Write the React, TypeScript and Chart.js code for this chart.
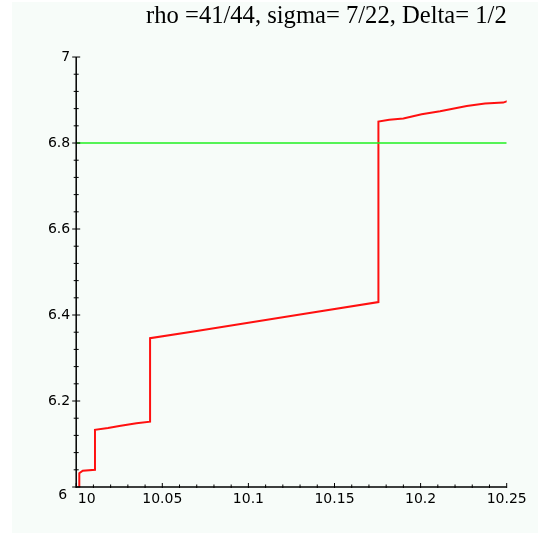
import React, { useEffect, useRef } from "react";
import { Chart, registerables } from "chart.js";

Chart.register(...registerables);

const titleText = "rho =41/44, sigma= 7/22, Delta= 1/2";

const xTickValues = [10, 10.05, 10.1, 10.15, 10.2, 10.25];
const xTickLabels = ["10", "10.05", "10.1", "10.15", "10.2", "10.25"];
const yTickValues = [6, 6.2, 6.4, 6.6, 6.8, 7];
const yTickLabels = ["6", "6.2", "6.4", "6.6", "6.8", "7"];

const redX = [
  10.0018, 10.0018, 10.0038, 10.0109, 10.0109, 10.0185, 10.025, 10.035, 10.0429,
  10.0429, 10.07, 10.1, 10.13, 10.1755, 10.1755, 10.1818, 10.19, 10.2006, 10.2113,
  10.2268, 10.2374, 10.248, 10.2509,
];
const redY = [
  6.0, 6.032, 6.038, 6.04, 6.133, 6.137, 6.142, 6.148, 6.152,
  6.346, 6.363, 6.382, 6.401, 6.43, 6.85, 6.854, 6.857, 6.867, 6.874,
  6.886, 6.892, 6.894, 6.898,
];

const greenX = [10, 10.25];
const greenY = [6.8, 6.8];

const TICK_FONT = { family: "DejaVu Sans", size: 14 };

const backgroundPlugin = {
  id: "bgFrame",
  beforeDraw(chart: any) {
    const { ctx, width, height } = chart;
    ctx.save();
    ctx.fillStyle = "#ffffff";
    ctx.fillRect(0, 0, width, height);
    ctx.fillStyle = "#f7fcf9";
    ctx.fillRect(12, 2, width - 22, height - 7);
    ctx.restore();
  },
};

const axesPlugin = {
  id: "mapleAxes",
  afterDatasetsDraw(chart: any) {
    const { ctx } = chart;
    const xs = chart.scales.x;
    const ys = chart.scales.y;
    const xMin = xTickValues[0];
    const xMax = xTickValues[xTickValues.length - 1];
    const yMin = yTickValues[0];
    const yMax = yTickValues[yTickValues.length - 1];
    const ax = xs.getPixelForValue(xMin);
    const ay = ys.getPixelForValue(yMin);
    ctx.save();
    ctx.strokeStyle = "#000";
    ctx.lineWidth = 1.5;
    ctx.beginPath();
    ctx.moveTo(ax, ys.getPixelForValue(yMax));
    ctx.lineTo(ax, ay);
    ctx.lineTo(xs.getPixelForValue(xMax), ay);
    ctx.stroke();

    ctx.lineWidth = 1;
    ctx.beginPath();
    const nx = Math.round((xMax - xMin) / 0.01);
    for (let i = 0; i <= nx; i++) {
      const px = xs.getPixelForValue(xMin + (i * (xMax - xMin)) / nx);
      const major = i % 5 === 0;
      ctx.moveTo(px, ay + 1);
      ctx.lineTo(px, ay - (major ? 4 : 2.5));
    }
    const ny = Math.round((yMax - yMin) / 0.04);
    for (let i = 0; i <= ny; i++) {
      const py = ys.getPixelForValue(yMin + (i * (yMax - yMin)) / ny);
      const major = i % 5 === 0;
      const l = major ? 4 : 2.5;
      ctx.moveTo(ax - l, py);
      ctx.lineTo(ax + l, py);
    }
    ctx.stroke();

    // origin labels, offset like the original
    ctx.fillStyle = "#000";
    ctx.font = `${TICK_FONT.size}px "${TICK_FONT.family}"`;
    ctx.textBaseline = "middle";
    ctx.textAlign = "right";
    ctx.fillText(yTickLabels[0], ax - 9, ay + 8);
    ctx.textAlign = "center";
    ctx.fillText(xTickLabels[0], ax + 10.5, ay + 12.5);
    ctx.restore();
  },
};

export default function App() {
  const canvasRef = useRef<HTMLCanvasElement | null>(null);

  useEffect(() => {
    if (!canvasRef.current) return;
    const chart = new Chart(canvasRef.current, {
      type: "scatter",
      data: {
        datasets: [
          {
            label: "green",
            data: greenX.map((x, i) => ({ x, y: greenY[i] })),
            showLine: true,
            borderColor: "#1ff01f",
            borderWidth: 1.6,
            pointRadius: 0,
          },
          {
            label: "red",
            data: redX.map((x, i) => ({ x, y: redY[i] })),
            showLine: true,
            borderColor: "#ff1010",
            borderWidth: 2,
            pointRadius: 0,
            tension: 0,
            borderJoinStyle: "miter",
          },
        ],
      },
      options: {
        animation: false,
        responsive: false,
        devicePixelRatio: 1,
        layout: { padding: { left: 0, right: 41.3, top: 0, bottom: 0 } },
        plugins: {
          legend: { display: false },
          tooltip: { enabled: false },
          title: {
            display: true,
            text: titleText,
            align: "end",
            color: "#000",
            font: { family: "Liberation Serif", size: 24.6, weight: "normal", lineHeight: 1.2 },
            padding: { top: 2, bottom: 25.5 },
          },
        },
        scales: {
          x: {
            type: "linear",
            min: xTickValues[0],
            max: xTickValues[xTickValues.length - 1],
            grid: { display: false, drawTicks: false },
            border: { display: false },
            afterBuildTicks: (scale: any) => {
              scale.ticks = xTickValues.map((v) => ({ value: v }));
            },
            afterFit: (scale: any) => {
              scale.height = 51;
            },
            ticks: {
              autoSkip: false,
              maxRotation: 0,
              padding: 4,
              color: "#000",
              font: TICK_FONT,
              callback: (_v: any, i: number) => (i === 0 ? "" : xTickLabels[i]),
            },
          },
          y: {
            type: "linear",
            min: yTickValues[0],
            max: yTickValues[yTickValues.length - 1],
            grid: { display: false, drawTicks: false },
            border: { display: false },
            afterBuildTicks: (scale: any) => {
              scale.ticks = yTickValues.map((v) => ({ value: v }));
            },
            afterFit: (scale: any) => {
              scale.width = 76.2;
            },
            ticks: {
              autoSkip: false,
              padding: 6,
              color: "#000",
              font: TICK_FONT,
              callback: (_v: any, i: number) => (i === 0 ? "" : yTickLabels[i]),
            },
          },
        },
      },
      plugins: [backgroundPlugin, axesPlugin],
    } as any);
    return () => chart.destroy();
  }, []);

  return (
    <div style={{ position: "absolute", left: 0, top: 0, width: 548, height: 538 }}>
      <canvas ref={canvasRef} width={548} height={538} style={{ display: "block" }} />
    </div>
  );
}
